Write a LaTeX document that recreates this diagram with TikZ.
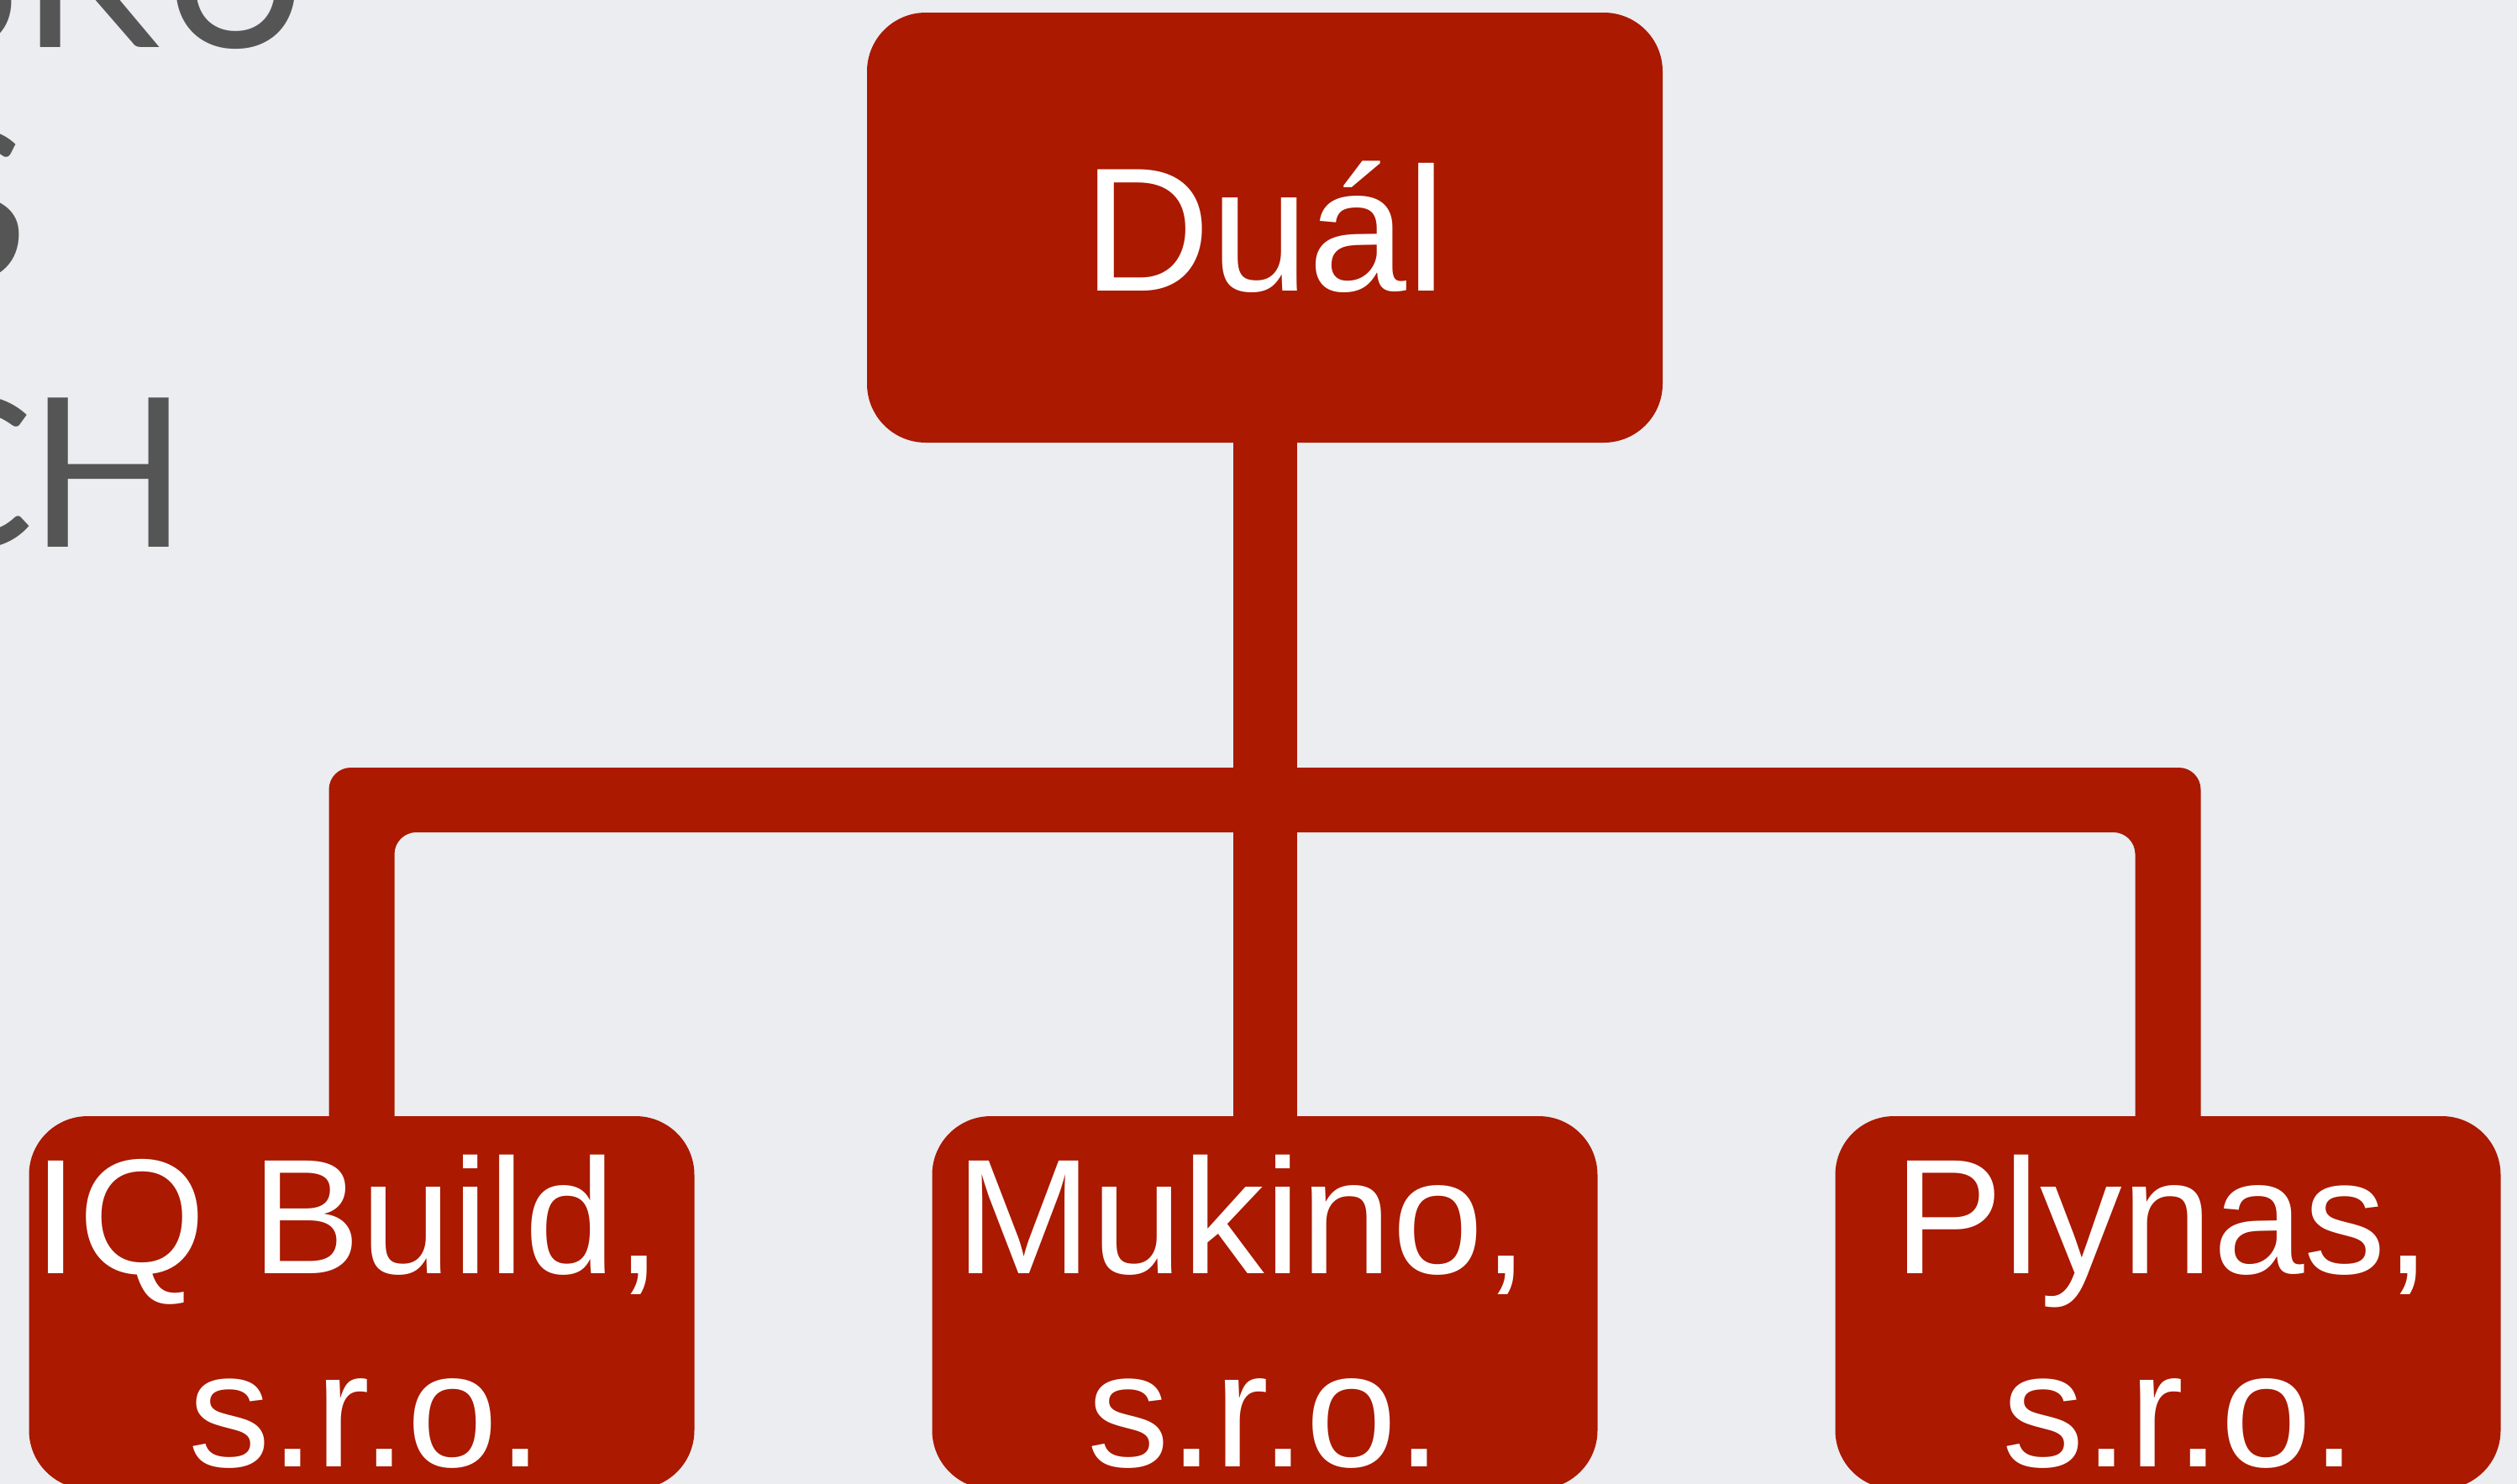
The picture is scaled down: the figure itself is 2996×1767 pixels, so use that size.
\documentclass[tikz,border=0pt]{standalone}
\usepackage{fontspec}
\newfontfamily\arialf{Liberation Sans}
\newfontfamily\titlef{Lato}
\usetikzlibrary{calc}
\definecolor{bgc}{HTML}{EBEDF0}
\definecolor{boxred}{HTML}{AA1900}
\definecolor{titlegray}{HTML}{555555}
\pgfdeclarelayer{backdrop}
\pgfdeclarelayer{linklayer}
\pgfsetlayers{backdrop,linklayer,main}
\begin{document}
\begin{tikzpicture}[x=1pt,y=-1pt,
  orgbox/.style={fill=boxred, rounded corners=70pt, inner sep=0pt, draw=none},
  toptext/.style={text=white, font=\arialf\fontsize{210pt}{250pt}\selectfont},
  subtext/.style={text=white, font=\arialf\fontsize{195pt}{230pt}\selectfont, inner sep=0pt, anchor=base},
  titletext/.style={text=titlegray, font=\titlef\fontsize{248pt}{280pt}\selectfont, inner sep=0pt, anchor=base east}]
\begin{pgfonlayer}{backdrop}
\fill[bgc] (0,0) rectangle (2996,1767);
\end{pgfonlayer}
\useasboundingbox (0,0) rectangle (2996,1767);

% title fragments
\node[titletext] (title1) at (372,56) {SKU};
\node[titletext] (title2) at (34,333) {S};
\node[titletext] (title3) at (224,651) {C\kern-6pt H};

% boxes
\node[orgbox, minimum width=947pt, minimum height=512pt, text height=150pt, text depth=0pt, toptext] (top) at (1505.5,271) {Duál};
\node[orgbox, minimum width=792pt, minimum height=444pt] (b1) at (430.5,1551) {};
\node[orgbox, minimum width=792pt, minimum height=444pt] (b2) at (1505.5,1551) {};
\node[orgbox, minimum width=792pt, minimum height=444pt] (b3) at (2580.5,1551) {};

\node[subtext, xshift=-17pt] (b1a) at ($(b1.north)+(0,188)$) {IQ Build,};
\node[subtext, xshift=5pt] (b1b) at ($(b1.north)+(0,418)$) {s.r.o.};
\node[subtext, xshift=-27pt] (b2a) at ($(b2.north)+(0,188)$) {Mukino,};
\node[subtext] (b2b) at ($(b2.north)+(0,418)$) {s.r.o.};
\node[subtext, xshift=-6pt] (b3a) at ($(b3.north)+(0,188)$) {Plynas,};
\node[subtext, xshift=14pt] (b3b) at ($(b3.north)+(0,418)$) {s.r.o.};

% connectors
\coordinate (bar) at (1505.5,952.5);
\begin{pgfonlayer}{linklayer}
\draw[boxred, line width=76pt] (top.south) -- (b2.north);
\fill[boxred, rounded corners=26pt]
  ($(b1.north)+(-39,30)$) -- ($(b1.north |- bar)+(-39,-38.5)$)
  -- ($(b3.north |- bar)+(39,-38.5)$) -- ($(b3.north)+(39,30)$)
  -- ($(b3.north)+(-39,30)$) -- ($(b3.north |- bar)+(-39,38.5)$)
  -- ($(b1.north |- bar)+(39,38.5)$) -- ($(b1.north)+(39,30)$) -- cycle;
\end{pgfonlayer}
\end{tikzpicture}
\end{document}
